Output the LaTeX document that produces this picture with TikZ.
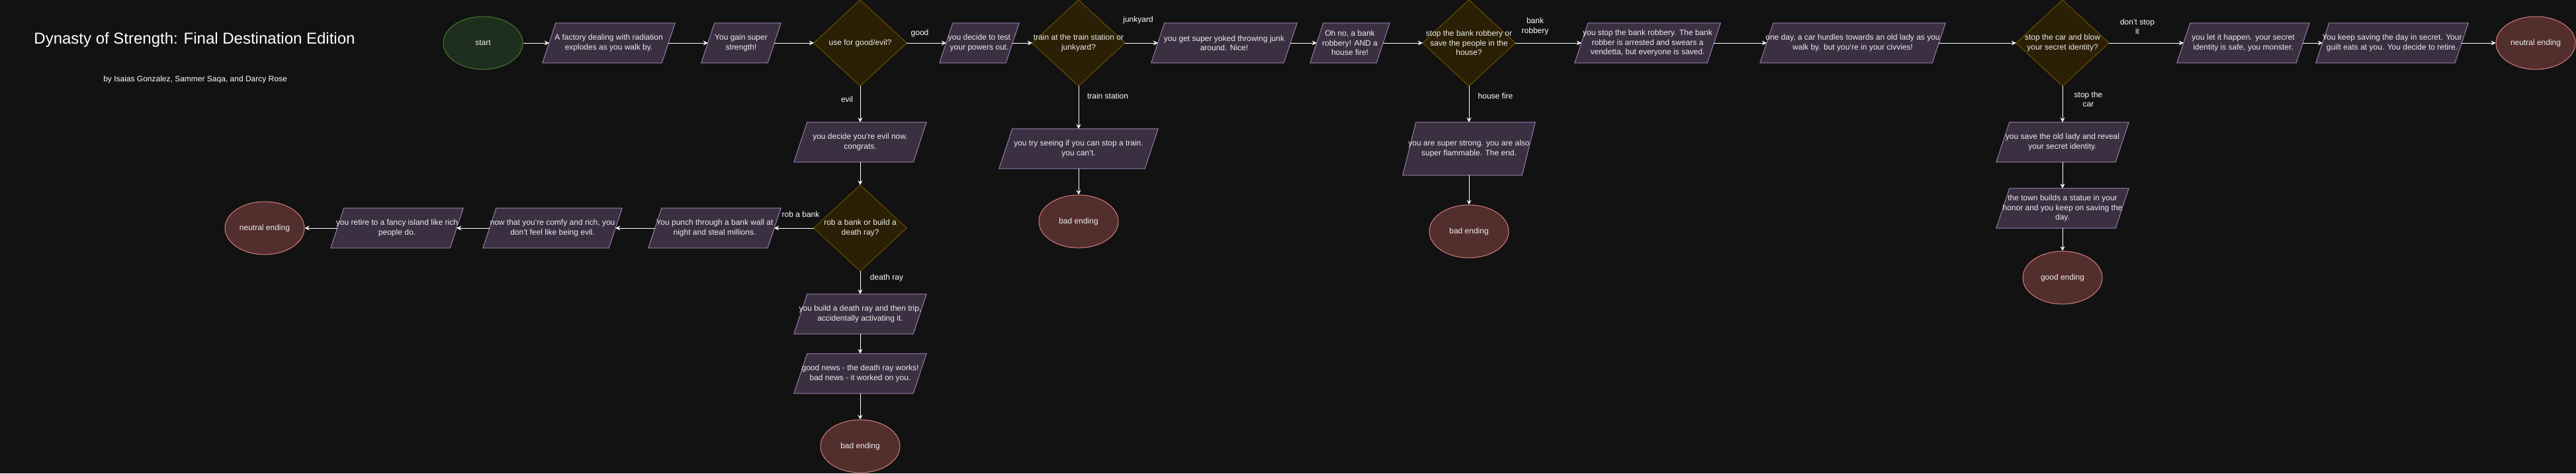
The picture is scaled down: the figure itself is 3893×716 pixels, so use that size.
\documentclass[tikz,border=0pt]{standalone}
\usepackage{fontspec}
\setmainfont{Liberation Sans}
\usetikzlibrary{shapes.geometric,arrows.meta,backgrounds}
\definecolor{bg}{HTML}{121212}
\definecolor{pfill}{HTML}{3B2F42}
\definecolor{pline}{HTML}{9A7FAE}
\definecolor{dfill}{HTML}{2B1F05}
\definecolor{dline}{HTML}{6D5200}
\definecolor{gfill}{HTML}{1F2F1E}
\definecolor{gline}{HTML}{4A7A30}
\definecolor{rfill}{HTML}{522E2D}
\definecolor{rline}{HTML}{D7817E}
\definecolor{txt}{HTML}{EEEEEE}
\tikzset{
 base/.style={inner sep=0pt, align=center, text=txt, font=\fontsize{12}{14.4}\selectfont},
 proc/.style={base, rectangle, minimum height=60pt},
 dec/.style={base, rectangle, minimum width=140pt, minimum height=130pt},
 endnode/.style={base, ellipse, draw=rline, fill=rfill, minimum width=120pt, minimum height=80pt, line width=1pt},
 startnode/.style={endnode, draw=gline, fill=gfill},
 lab/.style={base, text=white},
 conn/.style={draw=white, line width=1pt, -{Stealth[length=7pt,width=7pt,inset=2.5pt]}},
 procshape/.style={draw=pline, fill=pfill, line width=1pt},
 decshape/.style={draw=dline, fill=dfill, line width=1pt},
}
\begin{document}
\begin{tikzpicture}[x=1pt,y=-1pt]
\useasboundingbox (0,0) rectangle (3893,716);
% titles
\node[text=white, inner sep=0pt, font=\fontsize{24}{28}\selectfont] (title) at (294,60) {Dynasty of Strength: Final Destination Edition};
\node[base, text=white] (byline) at (295,120) {by Isaias Gonzalez, Sammer Saqa, and Darcy Rose};
% main row
\node[startnode] (start) at (730,65) {start};
\node[proc, minimum width=200pt] (factory) at (920,65) {A factory dealing with radiation\\explodes as you walk by.};
\node[proc, minimum width=120pt] (gain) at (1120,65) {You gain super\\strength!};
\node[dec] (dgood) at (1300,65) {use for good/evil?};
\node[proc, minimum width=120pt] (test) at (1480,65) {you decide to test\\your powers out.};
\node[dec] (dtrain) at (1630,65) {train at the train station or\\junkyard?};
\node[proc, minimum width=220pt] (junk) at (1850,65) {you get super yoked throwing junk\\around. Nice!};
\node[proc, minimum width=120pt] (bank) at (2040,65) {Oh no, a bank\\robbery! AND a\\house fire!};
\node[dec] (drob) at (2220,65) {stop the bank robbery or\\save the people in the\\house?};
\node[proc, minimum width=220pt] (stopbank) at (2490,65) {you stop the bank robbery. The bank\\robber is arrested and swears a\\vendetta, but everyone is saved.};
\node[proc, minimum width=280pt] (car) at (2800,65) {one day, a car hurdles towards an old lady as you\\walk by. but you're in your civvies!};
\node[dec] (dcar) at (3117,65) {stop the car and blow\\your secret identity?};
\node[proc, minimum width=200pt] (letit) at (3390,65) {you let it happen. your secret\\identity is safe, you monster.};
\node[proc, minimum width=230pt] (keep) at (3615,65) {You keep saving the day in secret. Your\\guilt eats at you. You decide to retire.};
\node[endnode] (neutralA) at (3832,65) {neutral ending};
% evil branch
\node[proc, minimum width=200pt] (evil) at (1300,215) {you decide you're evil now.\\congrats.};
\node[dec] (dray) at (1300,345) {rob a bank or build a\\death ray?};
\node[proc, minimum width=200pt] (punch) at (1080,345) {You punch through a bank wall at\\night and steal millions.};
\node[proc, minimum width=210pt] (comfy) at (835,345) {now that you're comfy and rich, you\\don't feel like being evil.};
\node[proc, minimum width=200pt] (retire) at (600,345) {you retire to a fancy island like rich\\people do.};
\node[endnode] (neutralB) at (400,345) {neutral ending};
\node[proc, minimum width=200pt] (build) at (1300,475) {you build a death ray and then trip,\\accidentally activating it.};
\node[proc, minimum width=200pt] (news) at (1300,565) {good news - the death ray works!\\bad news - it worked on you.};
\node[endnode] (badA) at (1300,675) {bad ending};
% train branch
\node[proc, minimum width=240pt] (trainfail) at (1630,225) {you try seeing if you can stop a train.\\you can't.};
\node[endnode] (badB) at (1630,335) {bad ending};
% fire branch
\node[proc, minimum width=200pt, minimum height=80pt] (fire) at (2220,225) {you are super strong. you are also\\super flammable. The end.};
\node[endnode] (badC) at (2220,350) {bad ending};
% car branch
\node[proc, minimum width=200pt] (save) at (3117,215) {you save the old lady and reveal\\your secret identity.};
\node[proc, minimum width=200pt] (statue) at (3117,315) {the town builds a statue in your\\honor and you keep on saving the\\day.};
\node[endnode] (goodE) at (3117,420) {good ending};
% edge labels
\node[lab] (lgood) at (1390,50) {good};
\node[lab] (levil) at (1280,150) {evil};
\node[lab] (ljunk) at (1720,30) {junkyard};
\node[lab] (ltrain) at (1674,145) {train station};
\node[lab] (lbank) at (2320,40) {bank\\robbery};
\node[lab] (lfire) at (2260,145) {house fire};
\node[lab] (ldont) at (3230,40) {don't stop\\it};
\node[lab] (lstop) at (3156,150) {stop the\\car};
\node[lab] (lrob) at (1210,324) {rob a bank};
\node[lab] (lray) at (1340,420) {death ray};
% connectors
\draw[conn] (start.east) -- ([xshift=10pt]factory.west);
\draw[conn] ([xshift=-10pt]factory.east) -- ([xshift=10pt]gain.west);
\draw[conn] ([xshift=-10pt]gain.east) -- (dgood.west);
\draw[conn] (dgood.east) -- ([xshift=10pt]test.west);
\draw[conn] ([xshift=-10pt]test.east) -- (dtrain.west);
\draw[conn] (dtrain.east) -- ([xshift=10pt]junk.west);
\draw[conn] ([xshift=-10pt]junk.east) -- ([xshift=10pt]bank.west);
\draw[conn] ([xshift=-10pt]bank.east) -- (drob.west);
\draw[conn] (drob.east) -- ([xshift=10pt]stopbank.west);
\draw[conn] ([xshift=-10pt]stopbank.east) -- ([xshift=10pt]car.west);
\draw[conn] ([xshift=-10pt]car.east) -- (dcar.west);
\draw[conn] (dcar.east) -- ([xshift=10pt]letit.west);
\draw[conn] ([xshift=-10pt]letit.east) -- ([xshift=10pt]keep.west);
\draw[conn] ([xshift=-10pt]keep.east) -- (neutralA.west);
\draw[conn] (dgood.south) -- (evil.north);
\draw[conn] (evil.south) -- (dray.north);
\draw[conn] (dray.west) -- ([xshift=-10pt]punch.east);
\draw[conn] ([xshift=10pt]punch.west) -- ([xshift=-10pt]comfy.east);
\draw[conn] ([xshift=10pt]comfy.west) -- ([xshift=-10pt]retire.east);
\draw[conn] ([xshift=10pt]retire.west) -- (neutralB.east);
\draw[conn] (dray.south) -- (build.north);
\draw[conn] (build.south) -- (news.north);
\draw[conn] (news.south) -- (badA.north);
\draw[conn] (dtrain.south) -- (trainfail.north);
\draw[conn] (trainfail.south) -- (badB.north);
\draw[conn] (drob.south) -- (fire.north);
\draw[conn] (fire.south) -- (badC.north);
\draw[conn] (dcar.south) -- (save.north);
\draw[conn] (save.south) -- (statue.north);
\draw[conn] (statue.south) -- (goodE.north);
% shapes behind the texts
\begin{pgfonlayer}{background}
\fill[bg] (0,0) rectangle (3893,716);
\foreach \n in {factory,gain,test,junk,bank,stopbank,car,letit,keep,evil,punch,comfy,retire,build,news,trainfail,fire,save,statue}{
  \path[procshape] ([xshift=20pt]\n.north west) -- (\n.north east) -- ([xshift=-20pt]\n.south east) -- (\n.south west) -- cycle;
}
\foreach \n in {dgood,dtrain,drob,dcar,dray}{
  \path[decshape] (\n.north) -- (\n.east) -- (\n.south) -- (\n.west) -- cycle;
}
\end{pgfonlayer}
\end{tikzpicture}
\end{document}
